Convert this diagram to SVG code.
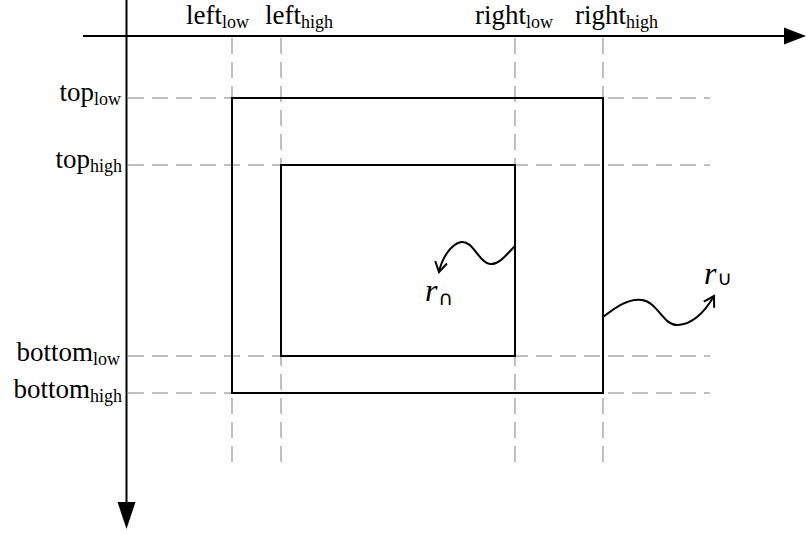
<svg xmlns="http://www.w3.org/2000/svg" width="806" height="534" viewBox="0 0 806 534">
<style>
.axis{stroke:#000;stroke-width:2;fill:none}
.box{stroke:#000;stroke-width:2;fill:none}
.guide{stroke:#c0c0c0;stroke-width:2;stroke-dasharray:16 8;fill:none}
.wave{stroke:#000;stroke-width:2;fill:none}
.lbl{font-family:"Liberation Serif","Times New Roman",serif;font-size:27px;fill:#000}
.sub{font-size:18px}
.math{font-family:"Liberation Serif","Times New Roman",serif;font-size:32px;font-style:italic;fill:#000}
.sym{font-family:"DejaVu Sans","Liberation Sans",sans-serif;font-size:20px;font-style:normal}
</style>
<defs>
<marker id="open" viewBox="-12 -8 14 16" refX="0" refY="0" markerWidth="14" markerHeight="16" markerUnits="userSpaceOnUse" orient="auto">
<path d="M-10,-6 L0,0 L-10,6" fill="none" stroke="#000" stroke-width="2"/>
</marker>
</defs>
<rect width="806" height="534" fill="#fff"/>
<g id="guides">
<line class="guide" x1="232" y1="38" x2="232" y2="470"/>
<line class="guide" x1="281" y1="38" x2="281" y2="470"/>
<line class="guide" x1="515" y1="38" x2="515" y2="470"/>
<line class="guide" x1="603" y1="38" x2="603" y2="470"/>
<line class="guide" x1="128" y1="98" x2="710" y2="98"/>
<line class="guide" x1="128" y1="165" x2="710" y2="165"/>
<line class="guide" x1="128" y1="356" x2="710" y2="356"/>
<line class="guide" x1="128" y1="393" x2="710" y2="393"/>
</g>
<g id="axes">
<line class="axis" x1="83" y1="36" x2="786" y2="36"/>
<polygon points="784,27.5 806,36 784,44.5" fill="#000"/>
<line class="axis" x1="126.5" y1="0" x2="126.5" y2="504"/>
<polygon points="117.5,502 135.5,502 126.5,529" fill="#000"/>
</g>
<g id="outer-rect">
<rect class="box" x="232" y="98" width="371" height="295"/>
</g>
<g id="inner-rect">
<rect class="box" x="281" y="165" width="234" height="191"/>
</g>
<g id="connectors">
<path class="wave" d="M515,246 C506,255 499,265 490,264 C479,263 473,240 461,242 C451,244 442,258 439,272" marker-end="url(#open)"/>
<path class="wave" d="M603,317 C615,308 628,298 642,300 C658,302 663,326 678,325 C695,324 707,308 714,296" marker-end="url(#open)"/>
</g>
<g id="labels">
<text class="lbl" x="186" y="24">left<tspan class="sub" dy="3.5">low</tspan></text>
<text class="lbl" x="265" y="24">left<tspan class="sub" dy="3.5">high</tspan></text>
<text class="lbl" x="475" y="24">right<tspan class="sub" dy="3.5">low</tspan></text>
<text class="lbl" x="575" y="24">right<tspan class="sub" dy="3.5">high</tspan></text>
<text class="lbl" x="121" y="101" text-anchor="end">top<tspan class="sub" dy="3.5">low</tspan></text>
<text class="lbl" x="122" y="168" text-anchor="end">top<tspan class="sub" dy="3.5">high</tspan></text>
<text class="lbl" x="120" y="361" text-anchor="end">bottom<tspan class="sub" dy="3.5">low</tspan></text>
<text class="lbl" x="122" y="398" text-anchor="end">bottom<tspan class="sub" dy="3.5">high</tspan></text>
<text class="math" x="425" y="301">r<tspan class="sym" dx="1" dy="4">∩</tspan></text>
<text class="math" x="704" y="284">r<tspan class="sym" dx="1" dy="1">∪</tspan></text>
</g>
</svg>
